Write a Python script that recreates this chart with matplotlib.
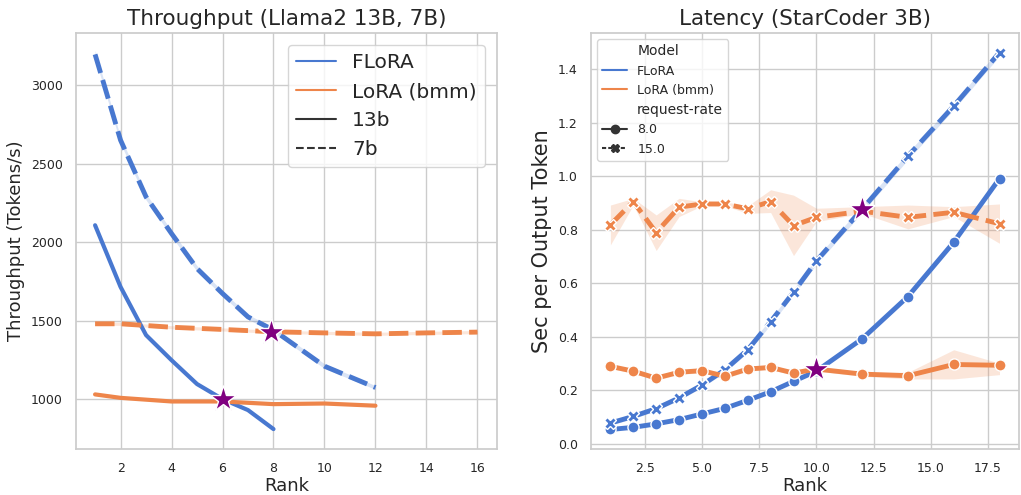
import matplotlib
matplotlib.use("Agg")
import matplotlib.pyplot as plt
from matplotlib.lines import Line2D
import seaborn as sns

sns.set_theme(style="whitegrid")
plt.rcParams['font.family'] = ['DejaVu Sans']
plt.rcParams['xtick.labelsize'] = 9
plt.rcParams['ytick.labelsize'] = 9

BLUE = "#4878d0"
ORANGE = "#ee854a"
STAR = "purple"

# ---- Throughput (left) ----
rank_13b = [1, 2, 3, 4, 5, 6, 7, 8]
flora_13b = [2108, 1715, 1408, 1248, 1096, 1000, 930, 809]
rank_lora_13b = [1, 2, 4, 6, 8, 10, 12]
lora_13b = [1030, 1008, 985, 985, 968, 972, 958]

rank_7b = [1, 2, 3, 4, 5, 6, 7, 8, 10, 12]
flora_7b = [3197, 2650, 2289, 2055, 1832, 1673, 1524, 1440, 1210, 1074]
flora_7b_err = [25, 20, 20, 18, 18, 15, 15, 15, 15, 12]
rank_lora_7b = [1, 2, 4, 6, 8, 10, 12, 14, 16]
lora_7b = [1480, 1480, 1458, 1444, 1429, 1422, 1416, 1422, 1427]
lora_7b_err = [10, 10, 10, 10, 10, 10, 10, 10, 10]

stars_left_x = [6, 7.9]
stars_left_y = [1000, 1425]

# ---- Latency (right) ----
rank = [1, 2, 3, 4, 5, 6, 7, 8, 9, 10, 12, 14, 16, 18]
flora_8 = [0.054, 0.062, 0.075, 0.091, 0.112, 0.133, 0.163, 0.195, 0.234, 0.272, 0.393, 0.551, 0.754, 0.992]
flora_15 = [0.078, 0.103, 0.132, 0.172, 0.220, 0.277, 0.352, 0.457, 0.567, 0.684, 0.878, 1.076, 1.263, 1.463]
flora_15_lo = [0.070, 0.095, 0.124, 0.164, 0.211, 0.268, 0.342, 0.446, 0.556, 0.672, 0.865, 1.063, 1.250, 1.450]
flora_15_hi = [0.086, 0.111, 0.140, 0.180, 0.229, 0.286, 0.362, 0.468, 0.578, 0.696, 0.891, 1.089, 1.276, 1.476]
lora_8 = [0.290, 0.272, 0.246, 0.268, 0.274, 0.253, 0.280, 0.286, 0.265, 0.280, 0.261, 0.255, 0.297, 0.294]
lora_8_lo = [0.282, 0.264, 0.238, 0.260, 0.266, 0.245, 0.272, 0.278, 0.257, 0.272, 0.253, 0.243, 0.243, 0.259]
lora_8_hi = [0.298, 0.280, 0.254, 0.276, 0.282, 0.261, 0.288, 0.294, 0.273, 0.288, 0.269, 0.268, 0.352, 0.302]
lora_15 = [0.819, 0.906, 0.790, 0.885, 0.897, 0.897, 0.879, 0.906, 0.816, 0.847, 0.870, 0.847, 0.866, 0.823]
lora_15_lo = [0.744, 0.893, 0.723, 0.850, 0.890, 0.890, 0.862, 0.865, 0.704, 0.831, 0.862, 0.804, 0.850, 0.750]
lora_15_hi = [0.893, 0.918, 0.856, 0.918, 0.905, 0.905, 0.890, 0.950, 0.930, 0.881, 0.887, 0.893, 0.887, 0.897]

stars_right_x = [10, 12]
stars_right_y = [0.28, 0.88]

fig = plt.figure(figsize=(10.21, 4.95), dpi=100)
ax1 = fig.add_axes([0.0744, 0.0929, 0.4124, 0.8404])
ax2 = fig.add_axes([0.5788, 0.0929, 0.4192, 0.8404])

dash = (4, 1.5)
lw = 3.5

ax1.fill_between(rank_7b, [v - e for v, e in zip(flora_7b, flora_7b_err)],
                 [v + e for v, e in zip(flora_7b, flora_7b_err)], color=BLUE, alpha=0.2, lw=0)
ax1.fill_between(rank_lora_7b, [v - e for v, e in zip(lora_7b, lora_7b_err)],
                 [v + e for v, e in zip(lora_7b, lora_7b_err)], color=ORANGE, alpha=0.2, lw=0)
ax1.plot(rank_13b, flora_13b, color=BLUE, lw=3)
ax1.plot(rank_lora_13b, lora_13b, color=ORANGE, lw=3)
ax1.plot(rank_7b, flora_7b, color=BLUE, lw=lw, dashes=dash)
ax1.plot(rank_lora_7b, lora_7b, color=ORANGE, lw=lw, dashes=dash)
ax1.plot(stars_left_x, stars_left_y, ls="none", marker="*", ms=20, color=STAR,
         mec="white", mew=1, zorder=5)
ax1.set_xlim(0.25, 16.77)
ax1.set_ylim(682, 3333)
ax1.set_xticks([2, 4, 6, 8, 10, 12, 14, 16])
ax1.set_yticks([1000, 1500, 2000, 2500, 3000])
ax1.set_title("Throughput (Llama2 13B, 7B)", fontsize=15.5)
ax1.set_xlabel("Rank", fontsize=13, labelpad=1)
ax1.set_ylabel("Throughput (Tokens/s)", fontsize=13)
h1 = [Line2D([], [], color=BLUE, lw=1.5), Line2D([], [], color=ORANGE, lw=1.5),
      Line2D([], [], color=".2", lw=1.5), Line2D([], [], color=".2", lw=1.5, ls="--")]
ax1.legend(h1, ["FLoRA", "LoRA (bmm)", "13b", "7b"], loc="upper right", fontsize=14.5,
           borderaxespad=0.6)

ax2.fill_between(rank, flora_15_lo, flora_15_hi, color=BLUE, alpha=0.2, lw=0)
ax2.fill_between(rank, lora_8_lo, lora_8_hi, color=ORANGE, alpha=0.2, lw=0)
ax2.fill_between(rank, lora_15_lo, lora_15_hi, color=ORANGE, alpha=0.2, lw=0)
mk = dict(ms=8, mec="white", mew=1)
ax2.plot(rank, flora_8, color=BLUE, lw=lw, marker="o", **mk)
ax2.plot(rank, flora_15, color=BLUE, lw=lw, marker="X", dashes=dash, **mk)
ax2.plot(rank, lora_8, color=ORANGE, lw=lw, marker="o", **mk)
ax2.plot(rank, lora_15, color=ORANGE, lw=lw, marker="X", dashes=dash, **mk)
ax2.plot(stars_right_x, stars_right_y, ls="none", marker="*", ms=20, color=STAR,
         mec="white", mew=1, zorder=5)
ax2.set_xlim(0.15, 18.85)
ax2.set_ylim(-0.019, 1.536)
ax2.set_title("Latency (StarCoder 3B)", fontsize=15.5)
ax2.set_xlabel("Rank", fontsize=13, labelpad=1)
ax2.set_ylabel("Sec per Output Token", fontsize=15)
blank = Line2D([], [], ls="none")
h2 = [blank, Line2D([], [], color=BLUE, lw=1.5), Line2D([], [], color=ORANGE, lw=1.5),
      blank, Line2D([], [], color=".2", lw=1.5, marker="o", ms=6),
      Line2D([], [], color=".2", lw=1.5, marker="X", ms=6, dashes=(2, 1))]
leg = ax2.legend(h2, ["Model", "FLoRA", "LoRA (bmm)", "request-rate", "8.0", "15.0"],
                 loc="upper left", fontsize=9)
for t in leg.get_texts():
    if t.get_text() in ("Model", "request-rate"):
        t.set_fontsize(10)

fig.savefig("out.png", dpi=100)
